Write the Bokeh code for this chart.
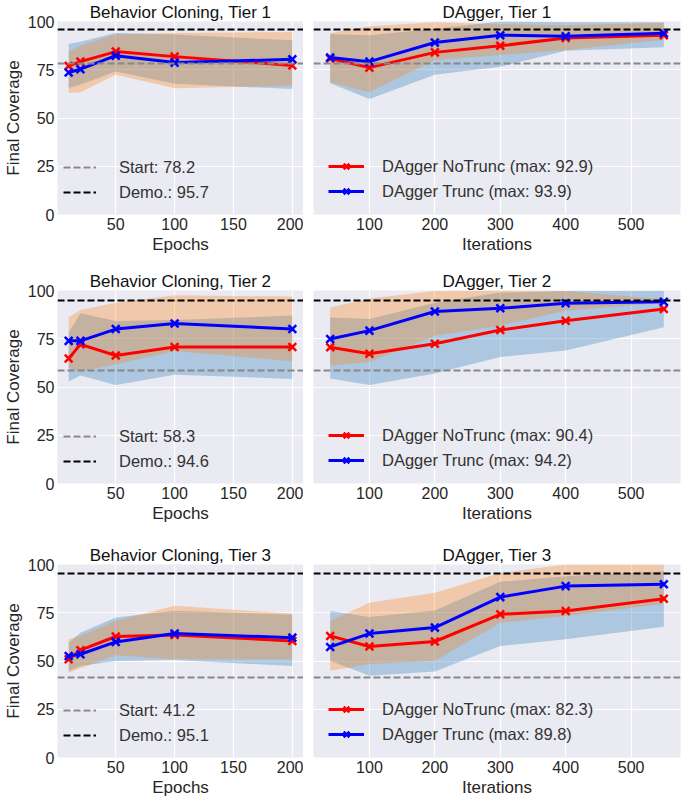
from bokeh.plotting import figure
from bokeh.layouts import column, row
from bokeh.models import Range1d, FixedTicker
from bokeh.embed import file_html
from bokeh.resources import INLINE

FONT = "Liberation Sans"
TXT = "#262626"
BG = "#EAEAF2"

# ---------------- data ----------------
bc_epochs = [10, 20, 50, 100, 200]
dagger_iters = [40, 100, 200, 300, 400, 550]
bc_xticks = [50, 100, 150, 200]
dagger_xticks = [100, 200, 300, 400, 500]
y_ticks = [0, 25, 50, 75, 100]

tier_names = ["Tier 1", "Tier 2", "Tier 3"]
start_cov = [78.2, 58.3, 41.2]
demo_cov = [95.7, 94.6, 95.1]

# Behavior Cloning, Tier 1
bc1_notrunc = [77.0, 79.2, 84.4, 81.8, 77.2]
bc1_notrunc_lo = [65.6, 67.3, 74.1, 67.8, 65.0]
bc1_notrunc_hi = [88.3, 89.5, 94.1, 93.2, 90.3]
bc1_trunc = [73.6, 75.3, 82.3, 78.7, 80.4]
bc1_trunc_lo = [63.0, 63.3, 72.4, 65.4, 66.8]
bc1_trunc_hi = [84.4, 87.4, 93.4, 94.1, 94.6]

# Behavior Cloning, Tier 2
bc2_notrunc = [64.8, 72.1, 66.3, 70.7, 70.7]
bc2_notrunc_lo = [52.9, 56.0, 51.1, 56.4, 54.2]
bc2_notrunc_hi = [78.2, 88.2, 84.2, 84.7, 87.0]
bc2_trunc = [73.9, 73.9, 80.0, 82.9, 80.0]
bc2_trunc_lo = [60.0, 58.2, 61.6, 68.6, 63.4]
bc2_trunc_hi = [86.1, 89.9, 93.6, 97.5, 96.9]

# Behavior Cloning, Tier 3
bc3_notrunc = [50.9, 55.6, 62.7, 63.5, 60.4]
bc3_notrunc_lo = [44.8, 47.4, 50.0, 50.5, 47.4]
bc3_notrunc_hi = [59.4, 64.7, 72.5, 76.0, 73.9]
bc3_trunc = [52.6, 53.5, 59.9, 64.2, 62.1]
bc3_trunc_lo = [43.9, 46.2, 53.0, 50.9, 50.9]
bc3_trunc_hi = [61.3, 63.0, 70.8, 78.6, 74.6]

# DAgger, Tier 1
dg1_notrunc = [80.8, 76.1, 84.0, 87.4, 91.5, 92.9]
dg1_notrunc_lo = [68.0, 59.9, 72.4, 76.6, 84.9, 86.6]
dg1_notrunc_hi = [93.5, 92.9, 96.3, 100.0, 99.6, 99.6]
dg1_trunc = [81.3, 79.2, 89.1, 92.9, 92.4, 93.9]
dg1_trunc_lo = [68.5, 63.3, 80.1, 82.6, 85.2, 90.6]
dg1_trunc_hi = [94.1, 97.5, 99.6, 98.6, 98.1, 99.2]

# DAgger, Tier 2
dg2_notrunc = [70.6, 67.2, 72.4, 79.5, 84.3, 90.4]
dg2_notrunc_lo = [54.4, 51.0, 57.0, 65.5, 68.9, 80.9]
dg2_notrunc_hi = [86.0, 85.2, 93.7, 98.9, 99.7, 99.7]
dg2_trunc = [74.9, 79.2, 89.1, 90.8, 93.4, 94.2]
dg2_trunc_lo = [61.2, 62.9, 76.6, 81.8, 89.5, 93.7]
dg2_trunc_hi = [91.2, 95.8, 99.7, 100.0, 99.7, 95.5]

# DAgger, Tier 3
dg3_notrunc = [63.0, 57.5, 60.1, 74.2, 75.9, 82.3]
dg3_notrunc_lo = [50.1, 42.4, 44.6, 57.8, 61.3, 67.8]
dg3_notrunc_hi = [75.9, 72.8, 76.2, 91.0, 93.9, 96.5]
dg3_trunc = [57.3, 64.2, 67.3, 83.1, 88.8, 89.8]
dg3_trunc_lo = [45.0, 48.4, 50.1, 69.8, 73.3, 79.6]
dg3_trunc_hi = [70.7, 80.2, 85.3, 95.6, 100.0, 100.0]

bc_series = [
    (bc1_notrunc, bc1_notrunc_lo, bc1_notrunc_hi, bc1_trunc, bc1_trunc_lo, bc1_trunc_hi),
    (bc2_notrunc, bc2_notrunc_lo, bc2_notrunc_hi, bc2_trunc, bc2_trunc_lo, bc2_trunc_hi),
    (bc3_notrunc, bc3_notrunc_lo, bc3_notrunc_hi, bc3_trunc, bc3_trunc_lo, bc3_trunc_hi),
]
dg_series = [
    (dg1_notrunc, dg1_notrunc_lo, dg1_notrunc_hi, dg1_trunc, dg1_trunc_lo, dg1_trunc_hi),
    (dg2_notrunc, dg2_notrunc_lo, dg2_notrunc_hi, dg2_trunc, dg2_trunc_lo, dg2_trunc_hi),
    (dg3_notrunc, dg3_notrunc_lo, dg3_notrunc_hi, dg3_trunc, dg3_trunc_lo, dg3_trunc_hi),
]

# ---------------- layout ----------------
FRAME_H = 193
TOP = 20
BOTTOMS = [55, 60, 40]
LEFT_W = 303
RIGHT_W = 380


def padded(xs):
    lo, hi = min(xs), max(xs)
    m = 0.05 * (hi - lo)
    return Range1d(lo - m, hi + m)


def style(p, xticks):
    p.background_fill_color = BG
    p.border_fill_color = "white"
    p.outline_line_color = None
    p.xaxis.ticker = FixedTicker(ticks=xticks)
    p.xgrid.ticker = FixedTicker(ticks=xticks)
    p.ygrid.ticker = FixedTicker(ticks=y_ticks)
    p.grid.grid_line_color = "white"
    p.grid.grid_line_width = 1.2
    for ax in p.axis:
        ax.axis_line_color = None
        ax.major_tick_line_color = None
        ax.minor_tick_line_color = None
        ax.major_tick_out = 0
        ax.major_tick_in = 0
        ax.major_label_text_font = FONT
        ax.major_label_text_font_size = "16px"
        ax.major_label_text_color = TXT
        ax.major_label_standoff = 3
        ax.axis_label_text_font = FONT
        ax.axis_label_text_font_size = "17px"
        ax.axis_label_text_font_style = "normal"
        ax.axis_label_text_color = TXT
        ax.axis_label_standoff = 2
    p.title.text_font = FONT
    p.title.text_font_size = "17px"
    p.title.text_font_style = "normal"
    p.title.text_color = "#111111"
    p.title.align = "center"
    p.title.standoff = 0


def draw(p, xs, series, tier, with_line_legend):
    nt, nt_lo, nt_hi, tr, tr_lo, tr_hi = series
    p.varea(x=xs, y1=nt_lo, y2=nt_hi, fill_color="#1f77b4", fill_alpha=0.3)
    p.varea(x=xs, y1=tr_lo, y2=tr_hi, fill_color="#ff7f0e", fill_alpha=0.3)
    lab_nt = f"DAgger NoTrunc (max: {max(nt):.1f})"
    lab_tr = f"DAgger Trunc (max: {max(tr):.1f})"
    for ys, col, lab in ((nt, "#ff0000", lab_nt), (tr, "#0000ff", lab_tr)):
        kw = dict(legend_label=lab) if with_line_legend else {}
        p.line(xs, ys, line_color=col, line_width=3, **kw)
        p.scatter(xs, ys, marker="x", size=11, line_color=col, line_width=2.5, **kw)
    kw1 = {} if with_line_legend else dict(legend_label=f"Start: {start_cov[tier]}")
    kw2 = {} if with_line_legend else dict(legend_label=f"Demo.: {demo_cov[tier]}")
    p.hspan(y=[start_cov[tier]], line_color="#888888", line_width=2.2, line_dash="7 3", **kw1)
    p.hspan(y=[demo_cov[tier]], line_color="#000000", line_width=2.2, line_dash="7 3", **kw2)
    lg = p.legend[0]
    lg.background_fill_alpha = 0
    lg.border_line_color = None
    lg.label_text_font = FONT
    lg.label_text_font_size = "16.5px"
    lg.label_text_color = "#333333"
    lg.glyph_height = 20
    lg.label_height = 20
    lg.spacing = 5
    lg.padding = 0
    lg.margin = 0
    if with_line_legend:
        lg.location = (15, 13)
        lg.glyph_width = 36
        lg.label_standoff = 18
    else:
        lg.location = (6, 12)
        lg.glyph_width = 33
        lg.label_standoff = 23


rows = []
for t in range(3):
    common = dict(frame_height=FRAME_H, y_range=Range1d(0, 100),
                  output_backend="svg", toolbar_location=None,
                  min_border_top=TOP, min_border_bottom=BOTTOMS[t])
    pl = figure(width=LEFT_W, x_range=padded(bc_epochs), min_border_left=0,
                min_border_right=0,
                title=f"Behavior Cloning, {tier_names[t]}", **common)
    style(pl, bc_xticks)
    pl.yaxis.ticker = FixedTicker(ticks=y_ticks)
    pl.yaxis.axis_label = "Final Coverage"
    pl.xaxis.axis_label = "Epochs"
    draw(pl, bc_epochs, bc_series[t], t, False)

    pr = figure(width=RIGHT_W, x_range=padded(dagger_iters), min_border_left=10,
                min_border_right=3,
                title=f"DAgger, {tier_names[t]}", **common)
    style(pr, dagger_xticks)
    pr.yaxis.visible = False
    pr.xaxis.axis_label = "Iterations"
    draw(pr, dagger_iters, dg_series[t], t, True)
    rows.append(row(pl, pr))

layout = column(*rows)
open("out.html", "w").write(file_html(layout, INLINE))
